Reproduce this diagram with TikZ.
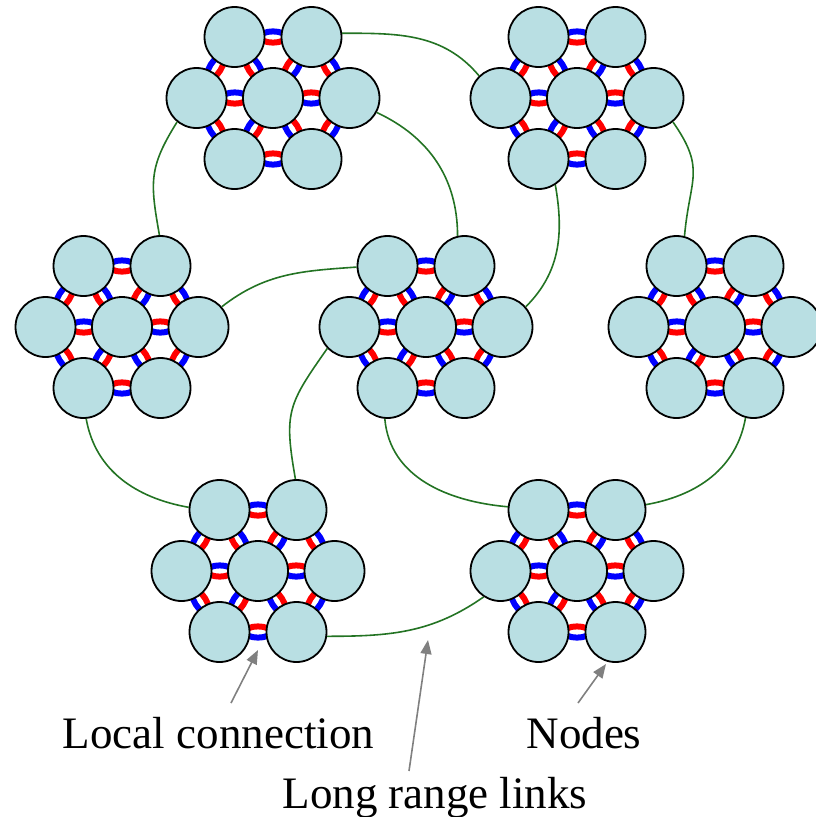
\documentclass[tikz,border=0pt]{standalone}
\usepackage{fontspec}
\setmainfont{Liberation Serif}
\usetikzlibrary{arrows.meta,calc,backgrounds}
\definecolor{nodefill}{RGB}{185,223,227}
\definecolor{lrgreen}{RGB}{35,115,35}
\definecolor{argray}{RGB}{128,128,128}
\tikzset{
  unit/.style={circle,draw=black,line width=1.8pt,fill=nodefill,minimum size=60pt,inner sep=0pt},
  lrlink/.style={draw=lrgreen,line width=1.6pt},
  pointer/.style={draw=argray,line width=1.6pt,-{Triangle[length=14pt,width=11pt]}},
  lbl/.style={font=\rmfamily\fontsize{45}{54}\selectfont,anchor=base,inner sep=0pt},
  bluehalf/.style={draw=blue,line width=6pt},
  redhalf/.style={draw=red,line width=6pt}
}
\newcommand\linkup[2]{%
  \pgfmathanglebetweenpoints{\pgfpointanchor{#1}{center}}{\pgfpointanchor{#2}{center}}%
  \let\lkang\pgfmathresult
  \begin{scope}[shift={($(#1)!0.5!(#2)$)},rotate=\lkang]
    \draw[bluehalf] (13pt,0pt) arc[start angle=0,end angle=180,x radius=13pt,y radius=5.6pt];
    \draw[redhalf] (-13pt,0pt) arc[start angle=180,end angle=360,x radius=13pt,y radius=5.6pt];
  \end{scope}}
\newcommand\clusterat[3]{%
  \node[unit] (#10) at (#2,#3) {};
  \node[unit] (#11) at (#2-38.5,#3-61) {};
  \node[unit] (#12) at (#2+38.5,#3-61) {};
  \node[unit] (#13) at (#2+76.5,#3) {};
  \node[unit] (#14) at (#2+38.5,#3+61) {};
  \node[unit] (#15) at (#2-38.5,#3+61) {};
  \node[unit] (#16) at (#2-76.5,#3) {};
  \begin{pgfonlayer}{background}
    \linkup{#11}{#12}\linkup{#12}{#13}\linkup{#13}{#14}%
    \linkup{#14}{#15}\linkup{#15}{#16}\linkup{#16}{#11}%
    \linkup{#11}{#10}\linkup{#12}{#10}\linkup{#13}{#10}%
    \linkup{#14}{#10}\linkup{#15}{#10}\linkup{#16}{#10}%
  \end{pgfonlayer}}
\begin{document}
\begin{tikzpicture}[x=1pt,y=-1pt]
\useasboundingbox (0,0) rectangle (816,817);
\clusterat{a}{273}{98}
\clusterat{b}{577}{98}
\clusterat{c}{122}{327}
\clusterat{d}{426}{327}
\clusterat{e}{715}{327}
\clusterat{f}{258}{571}
\clusterat{g}{577}{571}
% long range links
\draw[lrlink] (a2.7) to[out=0,in=130] (b6.134);
\draw[lrlink] (a6.231) to[out=238,in=100,looseness=1.2] (c2.92);
\draw[lrlink] (a3.-28) to[out=-25,in=90] (d2.103);
\draw[lrlink] (b5.303) to[out=-80,in=45] (d3.41);
\draw[lrlink] (b3.-51) to[out=-55,in=85,looseness=1.3] (e1.75);
\draw[lrlink] (c3.41) to[out=38,in=184] (d1.182);
\draw[lrlink] (c5.-85) to[out=-80,in=170] (f1.175);
\draw[lrlink] (d6.224) to[out=235,in=100,looseness=1.3] (f2.92);
\draw[lrlink] (d5.-95) to[out=-85,in=175] (g1.174);
\draw[lrlink] (e4.-105) to[out=-100,in=10] (g2.10);
\draw[lrlink] (f4.-8) to[out=0,in=215] (g6.237);
% labels
\node[lbl] (lc) at (218.5,748) {Local connection};
\node[lbl] (nd) at (584,748) {Nodes};
\node[lbl] (lr) at (435,808) {Long range links};
\coordinate (lcs) at (231,703);
\coordinate (lct) at (258,650);
\coordinate (lrs) at (409,771);
\coordinate (lrt) at (428,640);
\coordinate (nds) at (578,703);
\coordinate (ndt) at (606,664);
\draw[pointer] (lcs) -- (lct);
\draw[pointer] (lrs) -- (lrt);
\draw[pointer] (nds) -- (ndt);
\end{tikzpicture}
\end{document}
